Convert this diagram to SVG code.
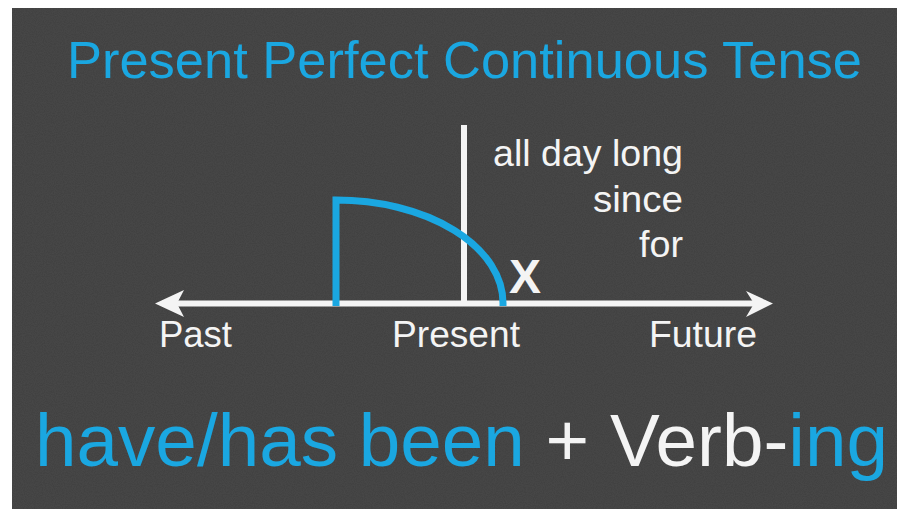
<svg xmlns="http://www.w3.org/2000/svg" width="897" height="509" viewBox="0 0 897 509">
  <defs>
    <style>
      .blue { fill: #1aa7e1; }
      .white { fill: #f4f4f4; }
      .t { font-family: "Liberation Sans", Arial, Helvetica, sans-serif; }
      .wline { stroke: #f4f4f4; stroke-width: 6; fill: none; }
      .bline { stroke: #1aa7e1; stroke-width: 7; fill: none; }
    </style>
    <filter id="noise" x="0" y="0" width="100%" height="100%">
      <feTurbulence type="fractalNoise" baseFrequency="0.9" numOctaves="2" seed="3" result="n"/>
      <feColorMatrix in="n" type="matrix" values="0 0 0 0 0.3  0 0 0 0 0.3  0 0 0 0 0.3  0 0 0 0.12 0" result="g"/>
      <feComposite in="g" in2="SourceGraphic" operator="in"/>
    </filter>
  </defs>
  <rect width="897" height="509" fill="#ffffff"/>
  <rect x="12" y="8" width="885" height="501" fill="#3f3f3f"/>
  <rect x="12" y="8" width="885" height="501" fill="#3f3f3f" filter="url(#noise)"/>

  <g id="title">
    <text class="t blue" x="67" y="78" font-size="52" textLength="795" lengthAdjust="spacingAndGlyphs">Present Perfect Continuous Tense</text>
  </g>

  <g id="connectors">
    <line id="timeline" class="wline" x1="162" y1="303.5" x2="766" y2="303.5"/>
    <path id="arrow-left" class="white" d="M155 303.5 L184 290 L177 303.5 L184 317 Z"/>
    <path id="arrow-right" class="white" d="M773 303.5 L746 291 L754 303.5 L746 317 Z"/>
    <line id="present-line" class="wline" x1="464" y1="125" x2="464" y2="303"/>
    <path id="action" class="bline" d="M336 306 L336 200 A167 103 0 0 1 503 303 L503 306"/>
  </g>

  <g id="label-x">
    <text class="t white" x="509" y="293" font-size="48" font-weight="bold" textLength="32" lengthAdjust="spacingAndGlyphs">X</text>
  </g>
  <g id="time-words">
    <text class="t white" x="493" y="166" font-size="37" textLength="190" lengthAdjust="spacingAndGlyphs">all day long</text>
    <text class="t white" x="593" y="212" font-size="37" textLength="90" lengthAdjust="spacingAndGlyphs">since</text>
    <text class="t white" x="639" y="257" font-size="37" textLength="44" lengthAdjust="spacingAndGlyphs">for</text>
  </g>
  <g id="label-past"><text class="t white" x="159" y="347" font-size="36" textLength="73" lengthAdjust="spacingAndGlyphs">Past</text></g>
  <g id="label-present"><text class="t white" x="392" y="347" font-size="37" textLength="128" lengthAdjust="spacingAndGlyphs">Present</text></g>
  <g id="label-future"><text class="t white" x="649" y="347" font-size="37" textLength="108" lengthAdjust="spacingAndGlyphs">Future</text></g>

  <g id="formula">
    <text class="t" x="35" y="466" font-size="74" textLength="853" lengthAdjust="spacingAndGlyphs"><tspan class="blue">have/has been</tspan><tspan class="white"> + Verb-</tspan><tspan class="blue">ing</tspan></text>
  </g>
</svg>
